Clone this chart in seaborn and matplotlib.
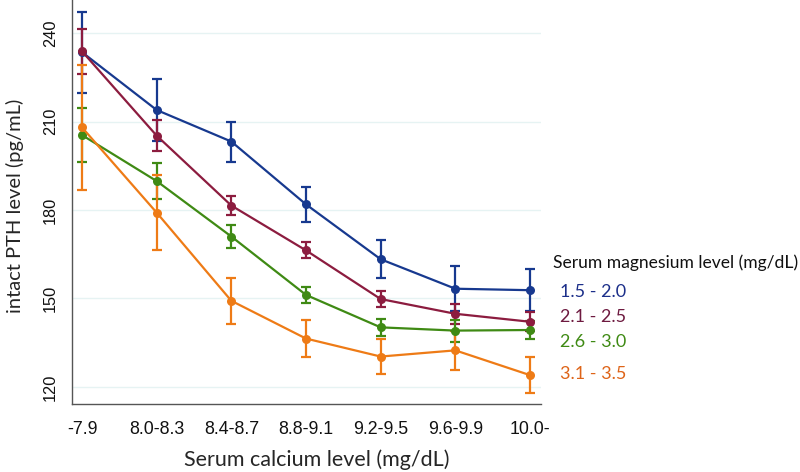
import numpy as np
import pandas as pd
import matplotlib
matplotlib.use("Agg")
import matplotlib.pyplot as plt
import seaborn as sns

# calcium categories (x axis)
calcium_bins = ["-7.9", "8.0-8.3", "8.4-8.7", "8.8-9.1", "9.2-9.5", "9.6-9.9", "10.0-"]

# magnesium groups
mg_groups = ["1.5 - 2.0", "2.1 - 2.5", "2.6 - 3.0", "3.1 - 3.5"]

# mean intact PTH (pg/mL) per group
pth_15_20 = [233.5, 213.9, 203.2, 181.9, 163.3, 153.3, 152.8]
pth_21_25 = [233.8, 205.2, 181.5, 166.3, 149.8, 144.8, 142.1]
pth_26_30 = [205.4, 189.8, 171.0, 151.2, 140.2, 139.1, 139.3]
pth_31_35 = [208.0, 179.1, 149.2, 136.4, 130.3, 132.4, 124.0]

# half width of error bars
err_15_20 = [13.7, 10.4, 6.8, 6.0, 6.4, 7.7, 7.2]
err_21_25 = [7.7, 5.3, 3.3, 2.7, 2.8, 3.3, 3.2]
err_26_30 = [9.3, 6.2, 3.8, 2.8, 2.8, 3.7, 3.2]
err_31_35 = [21.2, 12.7, 7.9, 6.2, 5.8, 6.6, 6.0]

colors = ["#17398f", "#8c1c3f", "#3f8a14", "#ee7b16"]
text_colors = ["#1c2f8a", "#6e1a40", "#3f8a14", "#de6418"]

rows = []
for grp, vals, errs in zip(mg_groups,
                           [pth_15_20, pth_21_25, pth_26_30, pth_31_35],
                           [err_15_20, err_21_25, err_26_30, err_31_35]):
    for i, (v, e) in enumerate(zip(vals, errs)):
        rows.append({"pos": i, "calcium": calcium_bins[i], "mg": grp, "pth": v, "err": e})
df = pd.DataFrame(rows)

sns.set_style("white")
plt.rcParams['font.family'] = ['Liberation Sans', 'DejaVu Sans']
label_font = ["Lato", "DejaVu Sans"]
tick_font = ["Liberation Sans", "DejaVu Sans"]

fig = plt.figure(figsize=(8, 4.72), dpi=100)
ax = fig.add_axes([0.09, 0.144, 0.586, 0.856])

for grp, col in zip(mg_groups, colors):
    sub = df[df["mg"] == grp]
    ax.errorbar(sub["pos"], sub["pth"], yerr=sub["err"], fmt="none",
                ecolor=col, elinewidth=1.6, capsize=3.4, capthick=1.6, zorder=2)
    sns.lineplot(data=sub, x="pos", y="pth", color=col, marker="o",
                 markersize=6.5, markeredgewidth=0, linewidth=1.6, ax=ax, zorder=3)

ax.set_xlim(-0.134, 6.145)
ax.set_ylim(114.2, 251.2)
ax.set_xticks(range(len(calcium_bins)))
ax.set_xticklabels(calcium_bins, family=tick_font, fontsize=12.8)
ax.set_yticks([120, 150, 180, 210, 240])
ax.set_yticklabels(["120", "150", "180", "210", "240"], rotation=90, va="center",
                   family=tick_font, fontsize=11.8)
ax.tick_params(axis="both", direction="out", length=5, width=1, color="#555555",
               labelcolor="#111111", pad=5)
ax.tick_params(axis="x", pad=7.5)
ax.grid(axis="y", color="#e6f3f3", linewidth=1)
ax.grid(axis="x", visible=False)

for s in ["top", "right"]:
    ax.spines[s].set_visible(False)
for s in ["left", "bottom"]:
    ax.spines[s].set_color("#555555")
    ax.spines[s].set_linewidth(1)

ax.set_xlabel("Serum calcium level (mg/dL)", fontsize=15.5, family=label_font, va="center")
ax.set_ylabel("intact PTH level (pg/mL)", fontsize=14.5, family=label_font, va="center")
ax.xaxis.set_label_coords(0.522, -0.139)
ax.yaxis.set_label_coords(-0.1215, 0.49)

# legend as text
fig.text(553 / 800, 1 - 263 / 472, "Serum magnesium level (mg/dL)", fontsize=12.6,
         family=label_font, va="center", ha="left", color="#111111")
for grp, tc, ypx in zip(mg_groups, text_colors, [292, 317, 342, 374]):
    fig.text(560 / 800, 1 - ypx / 472, grp, fontsize=13, family=label_font,
             va="center", ha="left", color=tc)

fig.savefig("out.png", dpi=100)
